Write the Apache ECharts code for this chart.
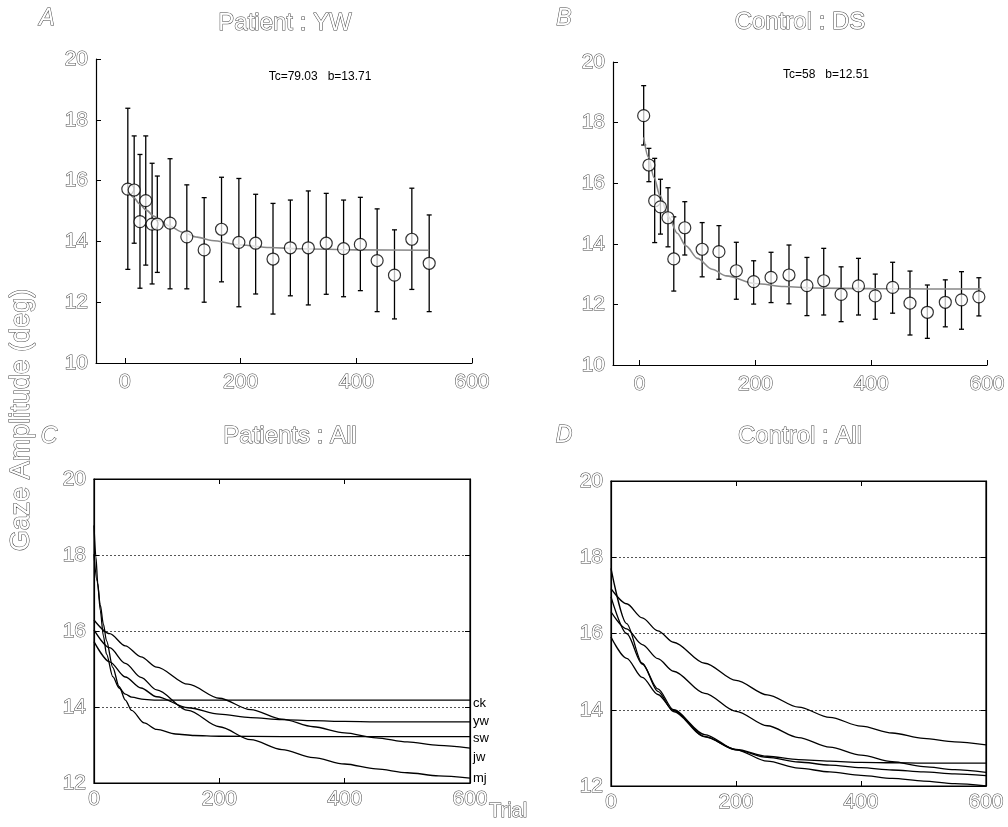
<!DOCTYPE html>
<html>
<head>
<meta charset="utf-8">
<script src="https://cdn.jsdelivr.net/npm/echarts@6/dist/echarts.min.js"></script>
<style>html,body{margin:0;padding:0;background:#fff;}#c{width:1008px;height:827px;}</style>
</head>
<body>
<div id="c"></div>
<script>
// ---------- Panel A : Patient YW ----------
const xA  = [5, 16, 26, 36, 47, 56, 78, 107, 137, 167, 197, 226, 256, 286, 317, 348, 378, 407, 436, 466, 496, 526];
const yA  = [15.72, 15.69, 14.65, 15.34, 14.57, 14.57, 14.6, 14.15, 13.72, 14.4, 13.97, 13.94, 13.42, 13.79, 13.79, 13.94, 13.76, 13.9, 13.37, 12.89, 14.07, 13.28];
const hiA = [18.38, 17.47, 16.86, 17.47, 16.57, 16.15, 16.72, 15.86, 15.44, 16.11, 16.07, 15.55, 15.25, 15.36, 15.66, 15.58, 15.36, 15.45, 15.07, 14.38, 15.75, 14.87];
const loA = [13.08, 13.94, 12.46, 13.22, 12.6, 12.98, 12.44, 12.44, 12.0, 12.67, 11.85, 12.27, 11.61, 12.21, 11.91, 12.26, 12.18, 12.38, 11.69, 11.45, 12.42, 11.69];
const fitAx = [5, 15, 25, 37, 50, 62, 75, 100, 125, 150, 200, 250, 300, 400, 526];
const fitAy = [15.68, 15.45, 15.24, 15.03, 14.83, 14.67, 14.52, 14.30, 14.14, 14.03, 13.88, 13.80, 13.76, 13.72, 13.71];

// ---------- Panel B : Control DS ----------
const xB  = [7, 16, 26, 36, 49, 59, 78, 108, 137, 167, 197, 227, 258, 289, 318, 348, 378, 407, 437, 467, 497, 528, 556, 586];
const yB  = [18.23, 16.6, 15.42, 15.22, 14.86, 13.5, 14.53, 13.82, 13.74, 13.11, 12.75, 12.89, 12.97, 12.62, 12.78, 12.33, 12.61, 12.28, 12.56, 12.04, 11.74, 12.07, 12.15, 12.25];
const hiB = [19.22, 17.15, 16.82, 16.13, 15.85, 14.89, 15.39, 14.7, 14.6, 14.05, 13.44, 13.72, 13.96, 13.55, 13.85, 13.24, 13.52, 13.0, 13.39, 13.1, 12.64, 12.81, 13.08, 12.88];
const loB = [17.26, 16.05, 14.04, 14.32, 13.9, 12.44, 13.63, 12.91, 12.83, 12.17, 12.01, 12.06, 12.02, 11.63, 11.65, 11.43, 11.65, 11.51, 11.71, 10.99, 10.88, 11.26, 11.18, 11.62];
const fitBx = [7, 15, 25, 35, 50, 65, 80, 100, 125, 150, 200, 250, 300, 400, 500, 590];
const fitBy = [17.51, 16.86, 16.18, 15.60, 14.89, 14.35, 13.93, 13.52, 13.16, 12.94, 12.69, 12.59, 12.54, 12.52, 12.51, 12.51];

// ---------- Panel C : Patients All ----------
const ckX = [0, 3, 6, 10, 15, 20, 30, 40, 50, 60, 80, 100, 200, 400, 600];
const ckY = [18.78, 17.95, 17.26, 16.54, 15.87, 15.39, 14.80, 14.50, 14.34, 14.26, 14.20, 14.18, 14.18, 14.18, 14.18];
const swX = [0, 5, 10, 15, 20, 30, 40, 50, 60, 80, 100, 130, 160, 200, 300, 400, 600];
const swY = [18.02, 17.31, 16.69, 16.18, 15.74, 15.04, 14.54, 14.18, 13.91, 13.58, 13.41, 13.29, 13.25, 13.23, 13.22, 13.22, 13.22];
const gX  = [0, 25, 50, 75, 100, 150, 200, 250, 300, 350, 400, 450, 500, 550, 600];
const jwY = [16.29, 15.93, 15.61, 15.32, 15.05, 14.60, 14.23, 13.93, 13.68, 13.48, 13.32, 13.19, 13.08, 12.99, 12.92];
const ywY = [15.72, 15.19, 14.79, 14.50, 14.27, 13.98, 13.81, 13.72, 13.67, 13.64, 13.62, 13.61, 13.61, 13.61, 13.61];
const mjY = [16.03, 15.56, 15.15, 14.78, 14.45, 13.91, 13.48, 13.14, 12.88, 12.67, 12.50, 12.37, 12.27, 12.19, 12.13];

// ---------- Panel D : Control All ----------
const dX  = [0, 25, 50, 75, 100, 150, 200, 250, 300, 350, 400, 450, 500, 550, 600];
const d1Y = [17.18, 16.78, 16.41, 16.07, 15.77, 15.22, 14.77, 14.39, 14.07, 13.80, 13.57, 13.39, 13.25, 13.16, 13.08];
const d2Y = [16.57, 16.12, 15.71, 15.34, 15.01, 14.43, 13.96, 13.58, 13.27, 13.02, 12.81, 12.64, 12.51, 12.43, 12.36];
const d3Y = [17.71, 16.26, 15.22, 14.48, 13.95, 13.29, 12.96, 12.78, 12.69, 12.65, 12.62, 12.61, 12.60, 12.60, 12.60];
const d4Y = [16.96, 16.00, 15.20, 14.55, 14.00, 13.30, 12.95, 12.75, 12.63, 12.55, 12.48, 12.42, 12.37, 12.32, 12.27];
const d5Y = [15.91, 15.35, 14.85, 14.40, 13.98, 13.35, 12.95, 12.65, 12.47, 12.37, 12.28, 12.20, 12.13, 12.06, 12.00];

// ---------- Ticks / labels ----------
const xTicks = [0, 200, 400, 600];
const titles = ['Patient : YW', 'Control : DS', 'Patients : All', 'Control : All'];
const letters = ['A', 'B', 'C', 'D'];
const fitTexts = ['Tc=79.03   b=13.71', 'Tc=58   b=12.51'];
const cNames = ['ck', 'yw', 'sw', 'jw', 'mj'];
const yTitle = 'Gaze Amplitude (deg)';
const xTitle = 'Trial';

const FONT = '"Liberation Sans", Arial, Helvetica, sans-serif';
const hollow = {color: '#fff', textBorderColor: '#444', textBorderWidth: 1, fontFamily: FONT, fontSize: 21};

const zip = (xs, ys) => xs.map((x, i) => [x, ys[i]]);

function xAx(gi, min, margin, opts) {
  return Object.assign({
    type: 'value', gridIndex: gi, min: min, max: 600,
    axisLine: {show: true, onZero: false, lineStyle: {color: '#000', width: 1.2}},
    axisTick: {show: true, inside: true, length: 5, customValues: xTicks, lineStyle: {color: '#000'}},
    axisLabel: Object.assign({show: true, margin: margin, customValues: xTicks}, hollow),
    splitLine: {show: false}
  }, opts || {});
}
function yAx(gi, min, opts) {
  return Object.assign({
    type: 'value', gridIndex: gi, min: min, max: 20, interval: 2,
    axisLine: {show: true, onZero: false, lineStyle: {color: '#000', width: 1.2}},
    axisTick: {show: true, inside: true, length: 5, lineStyle: {color: '#000'}},
    axisLabel: Object.assign({show: true, margin: 8}, hollow),
    splitLine: {show: false}
  }, opts || {});
}
const dotted = {show: true, lineStyle: {type: [2, 2], color: '#555', width: 1}};

function errSeries(xi, xs, lo, hi) {
  return {
    type: 'custom', xAxisIndex: xi, yAxisIndex: xi, z: 2,
    data: xs.map((x, i) => [x, lo[i], hi[i]]),
    encode: {x: 0, y: [1, 2]},
    renderItem: function (params, api) {
      const x = api.value(0);
      const p1 = api.coord([x, api.value(2)]);
      const p2 = api.coord([x, api.value(1)]);
      const w = 2.5;
      const st = {stroke: '#000', lineWidth: 1.3};
      return {type: 'group', children: [
        {type: 'line', shape: {x1: p1[0], y1: p1[1], x2: p2[0], y2: p2[1]}, style: st},
        {type: 'line', shape: {x1: p1[0] - w, y1: p1[1], x2: p1[0] + w, y2: p1[1]}, style: st},
        {type: 'line', shape: {x1: p2[0] - w, y1: p2[1], x2: p2[0] + w, y2: p2[1]}, style: st}
      ]};
    }
  };
}
function pts(xi, xs, ys) {
  return {type: 'scatter', xAxisIndex: xi, yAxisIndex: xi, z: 4, symbol: 'circle', symbolSize: 12,
    itemStyle: {color: 'rgba(255,255,255,0.9)', borderColor: '#000', borderWidth: 1.2},
    data: zip(xs, ys)};
}
function fit(xi, xs, ys) {
  return {type: 'line', xAxisIndex: xi, yAxisIndex: xi, z: 3, symbol: 'none', smooth: 0.3, smoothMonotone: 'x',
    lineStyle: {color: '#888', width: 1.6}, data: zip(xs, ys)};
}
function curve(xi, name, xs, ys, labelDy) {
  const s = {type: 'line', name: name, xAxisIndex: xi, yAxisIndex: xi, symbol: 'none', smooth: 0.3, smoothMonotone: 'x',
    lineStyle: {color: '#000', width: 1.3}, data: zip(xs, ys)};
  if (labelDy !== undefined) {
    s.endLabel = {show: true, formatter: name, distance: 3, offset: [0, labelDy], fontSize: 13, color: '#000', fontFamily: FONT};
  }
  return s;
}

const txt = (text, x, y, size, extra) => ({type: 'text', x: x, y: y, z: 10,
  style: Object.assign({text: text, font: size + 'px ' + FONT, fill: '#fff', stroke: '#444', lineWidth: 1,
    align: 'center', verticalAlign: 'middle'}, extra || {})});

const option = {
  animation: false,
  backgroundColor: '#fff',
  grid: [
    {left: 96, top: 59, width: 376, height: 304},
    {left: 613, top: 62, width: 375, height: 303},
    {left: 94, top: 479, width: 376, height: 304, show: true, borderColor: '#000', borderWidth: 1.2},
    {left: 611, top: 481, width: 375, height: 305, show: true, borderColor: '#000', borderWidth: 1.2}
  ],
  xAxis: [
    xAx(0, -50, 9),
    xAx(1, -46, 9),
    xAx(2, 0, 6),
    xAx(3, 0, 6),
    xAx(2, 0, 6, {position: 'top', axisLabel: {show: false}}),
    xAx(3, 0, 6, {position: 'top', axisLabel: {show: false}})
  ],
  yAxis: [
    yAx(0, 10),
    yAx(1, 10),
    yAx(2, 12, {splitLine: dotted}),
    yAx(3, 12, {splitLine: dotted}),
    yAx(2, 12, {position: 'right', axisLabel: {show: false}}),
    yAx(3, 12, {position: 'right', axisLabel: {show: false}})
  ],
  series: [
    fit(0, fitAx, fitAy), errSeries(0, xA, loA, hiA), pts(0, xA, yA),
    fit(1, fitBx, fitBy), errSeries(1, xB, loB, hiB), pts(1, xB, yB),
    curve(2, cNames[0], ckX, ckY, 3),
    curve(2, cNames[1], gX, ywY, 0),
    curve(2, cNames[2], swX, swY, 2),
    curve(2, cNames[3], gX, jwY, 9),
    curve(2, cNames[4], gX, mjY, 0),
    curve(3, 'd1', dX, d1Y), curve(3, 'd2', dX, d2Y), curve(3, 'd3', dX, d3Y),
    curve(3, 'd4', dX, d4Y), curve(3, 'd5', dX, d5Y)
  ],
  graphic: [
    txt(titles[0], 285, 23, 24),
    txt(titles[1], 800, 22, 24),
    txt(titles[2], 290, 436, 24),
    txt(titles[3], 800, 436, 24),
    txt(letters[0], 47, 19, 23, {font: 'italic 23px ' + FONT}),
    txt(letters[1], 564, 19, 23, {font: 'italic 23px ' + FONT}),
    txt(letters[2], 49, 437, 23, {font: 'italic 23px ' + FONT}),
    txt(letters[3], 564, 436, 23, {font: 'italic 23px ' + FONT}),
    txt(fitTexts[0], 320, 77, 12, {fill: '#000', stroke: null, lineWidth: 0}),
    txt(fitTexts[1], 826, 75, 12, {fill: '#000', stroke: null, lineWidth: 0}),
    txt(xTitle, 489, 811, 20, {align: 'left'}),
    {type: 'text', x: 22, y: 420, rotation: Math.PI / 2, z: 10,
      style: {text: yTitle, font: '27px ' + FONT, fill: '#fff', stroke: '#444', lineWidth: 1,
        align: 'center', verticalAlign: 'middle'}}
  ]
};

const chart = echarts.init(document.getElementById('c'), null, {renderer: 'canvas'});
chart.setOption(option);
</script>
</body>
</html>
